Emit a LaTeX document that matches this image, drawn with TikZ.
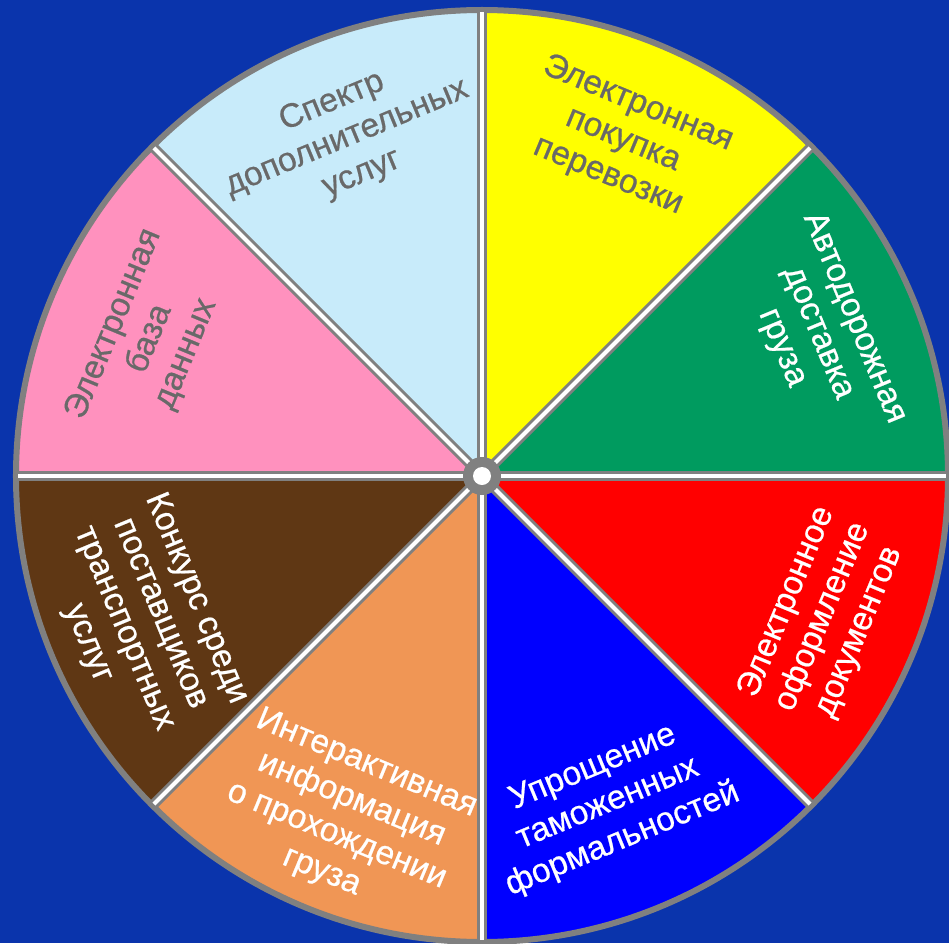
\documentclass[tikz,border=0pt]{standalone}
\usepackage{fontspec}
\setmainfont{Liberation Sans}[UprightFeatures={FakeBold=0.6}]
\definecolor{wheelbg}{RGB}{10,52,172}
\definecolor{rimgrey}{RGB}{128,128,128}
\definecolor{labelgrey}{RGB}{105,105,105}
\definecolor{skyfill}{RGB}{200,235,250}
\definecolor{yellowfill}{RGB}{255,255,0}
\definecolor{greenfill}{RGB}{0,155,95}
\definecolor{redfill}{RGB}{255,0,0}
\definecolor{bluefill}{RGB}{0,0,255}
\definecolor{orangefill}{RGB}{240,150,85}
\definecolor{brownfill}{RGB}{95,55,20}
\definecolor{pinkfill}{RGB}{255,145,190}
\begin{document}
\begin{tikzpicture}[x=1pt,y=1pt]
            \tikzstyle{sector label}=[align=center,inner sep=0,font=\fontsize{33.5}{39}\selectfont]
            \tikzstyle{grey label}=[sector label,text=labelgrey]
            \tikzstyle{white label}=[sector label,text=white]
            \tikzstyle{divider}=[draw=rimgrey,line width=10]
            \tikzstyle{divider core}=[draw=white,line width=4]

            \fill[wheelbg] (-482,-467) rectangle (467,476);
            \useasboundingbox (-482,-467) rectangle (467,476);

            % sectors
            \fill[greenfill] (0,0) -- (0:466pt) arc[start angle=0,end angle=45,radius=466pt] -- cycle;
            \fill[yellowfill] (0,0) -- (45:466pt) arc[start angle=45,end angle=90,radius=466pt] -- cycle;
            \fill[skyfill] (0,0) -- (90:466pt) arc[start angle=90,end angle=135,radius=466pt] -- cycle;
            \fill[pinkfill] (0,0) -- (135:466pt) arc[start angle=135,end angle=180,radius=466pt] -- cycle;
            \fill[brownfill] (0,0) -- (180:466pt) arc[start angle=180,end angle=225,radius=466pt] -- cycle;
            \fill[orangefill] (0,0) -- (225:466pt) arc[start angle=225,end angle=270,radius=466pt] -- cycle;
            \fill[bluefill] (0,0) -- (270:466pt) arc[start angle=270,end angle=315,radius=466pt] -- cycle;
            \fill[redfill] (0,0) -- (315:466pt) arc[start angle=315,end angle=360,radius=466pt] -- cycle;
            \draw[rimgrey,line width=6] (0,0) circle[radius=466pt];

            % spokes
            \foreach \a in {0,45,...,315}{
              \coordinate (rim\a) at (\a:464pt);
              \draw[divider] (0,0) -- (rim\a);
              \draw[divider core] (0,0) -- (rim\a);
            }
            \node(hub)[circle,fill=rimgrey,minimum size=38,inner sep=0]{};
            \node(hubhole)[circle,fill=white,minimum size=18,inner sep=0] at (hub){};

            % labels
            \node(services)[grey label,rotate=22.5] at (-135,338) {Спектр\\ дополнительных\\ услуг};
            \node(purchase)[grey label,rotate=-22.5] at (141,336) {Электронная\\ покупка\\ перевозки};
            \node(road)[white label,rotate=-67.5] at (336,143) {Автодорожная\\ доставка\\ груза};
            \node(documents)[white label,rotate=67.5] at (341,-141) {Электронное\\ оформление\\ документов};
            \node(customs)[white label,rotate=22.5] at (126,-328) {Упрощение\\ таможенных\\ формальностей};
            \node(tracking)[white label,rotate=-22.5] at (-138,-342) {Интерактивная\\ информация\\ о прохождении\\ груза};
            \node(tender)[white label,rotate=-67.5] at (-340,-145) {Конкурс среди\\ поставщиков\\ транспортных\\ услуг};
            \node(database)[grey label,rotate=67.5] at (-332,137) {Электронная\\ база\\ данных};
\end{tikzpicture}
\end{document}
